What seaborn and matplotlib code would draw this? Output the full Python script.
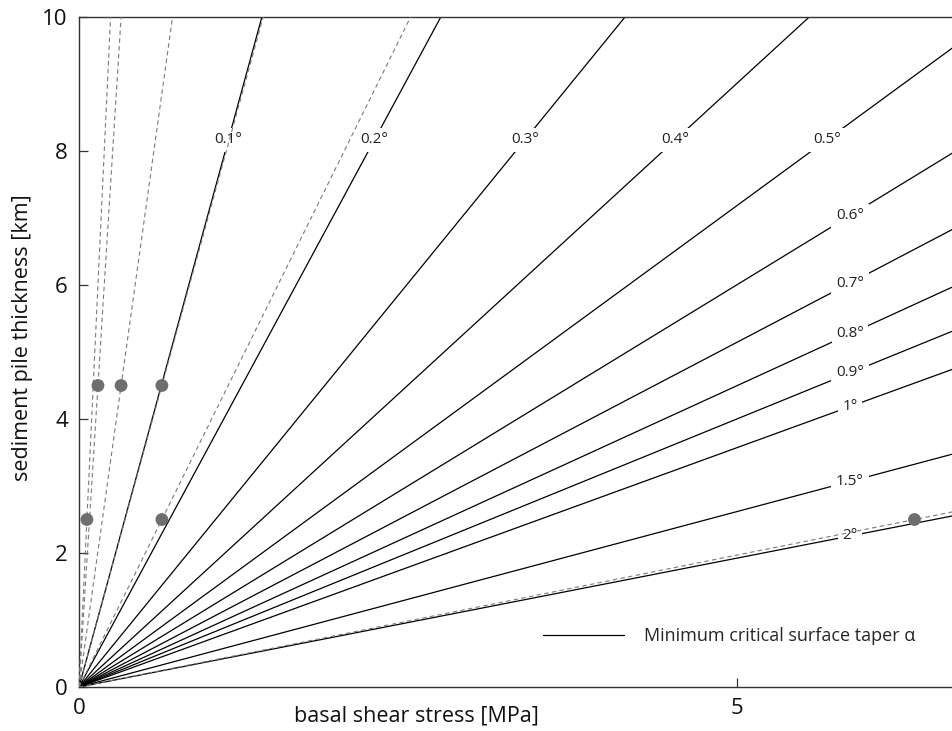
import numpy as np
import pandas as pd
import matplotlib
matplotlib.use("Agg")
import matplotlib.pyplot as plt
from matplotlib.lines import Line2D
from matplotlib.ticker import MultipleLocator
import seaborn as sns

# minimum critical surface taper α: label + shear stress (MPa) where each line hits 10 km
taper_labels = ["0.1°", "0.2°", "0.3°", "0.4°", "0.5°", "0.6°",
                "0.7°", "0.8°", "0.9°", "1°", "1.5°", "2°"]
taper_x_at_10km = [1.39, 2.75, 4.15, 5.55, 6.96, 8.33,
                   9.72, 11.12, 12.5, 14.0, 19.1, 26.0]

# observed cases (basal shear stress [MPa], sediment pile thickness [km])
obs_stress = [0.06, 0.144, 0.32, 0.63, 0.63, 6.35]
obs_thickness = [2.5, 4.5, 4.5, 4.5, 2.5, 2.5]

H_TOP = 10.0

sns.set_theme(style="white")
plt.rcParams["font.family"] = ["Open Sans", "DejaVu Sans"]
plt.rcParams["axes.unicode_minus"] = False

# lines through the origin, as long-form tables
rows = []
for lab, x10 in zip(taper_labels, taper_x_at_10km):
    rows.append({"taper": lab, "stress": 0.0, "thickness": 0.0})
    rows.append({"taper": lab, "stress": x10, "thickness": H_TOP})
df_taper = pd.DataFrame(rows)

rows = []
for i, (s, h) in enumerate(zip(obs_stress, obs_thickness)):
    rows.append({"case": i, "stress": 0.0, "thickness": 0.0})
    rows.append({"case": i, "stress": s * H_TOP / h, "thickness": H_TOP})
df_obs = pd.DataFrame(rows)

fig = plt.figure(figsize=(9.52, 7.31), dpi=100)
# axes run past the right edge of the figure (cut off like the original)
ax = fig.add_axes([79 / 952, 44 / 731, 921 / 952, 670 / 731])

sns.lineplot(data=df_taper, x="stress", y="thickness", units="taper",
             estimator=None, color="black", lw=0.9, legend=False,
             ax=ax, zorder=1)
sns.lineplot(data=df_obs, x="stress", y="thickness", units="case",
             estimator=None, color="#7a7a7a", lw=0.8,
             linestyle=(0, (4, 3)), legend=False, ax=ax, zorder=3)
sns.scatterplot(x=obs_stress, y=obs_thickness, s=85, color="#6e6e6e",
                edgecolor="none", ax=ax, zorder=4)

# inline labels: steep lines labelled at 8.17 km, flatter ones at 5.86 MPa
for i, (lab, x10) in enumerate(zip(taper_labels, taper_x_at_10km)):
    if i < 5:
        ly = 8.17
        lx = ly * x10 / H_TOP
    else:
        lx = 5.86
        ly = lx * H_TOP / x10
    ax.text(lx, ly, lab, ha="center", va="center", fontsize=11,
            color="#222222", zorder=2,
            bbox=dict(boxstyle="square,pad=0.3", fc="white", ec="none"))

ax.set_xlim(0, 7)
ax.set_ylim(0, 10)
ax.set_xticks([0, 5])
ax.yaxis.set_major_locator(MultipleLocator(2))
ax.yaxis.set_minor_locator(MultipleLocator(1))
ax.tick_params(which="both", direction="in", length=6.5, width=0.9,
               color="#333333", labelsize=16, pad=8, labelcolor="#111111")
ax.tick_params(axis="x", which="minor", length=0)
ax.tick_params(left=True, bottom=True)

for side in ["left", "bottom", "top"]:
    ax.spines[side].set_color("#333333")
    ax.spines[side].set_linewidth(1.0)
ax.spines["right"].set_visible(False)

ax.set_xlabel("basal shear stress [MPa]", fontsize=15.5, color="#111111")
ax.set_ylabel("sediment pile thickness [km]", fontsize=15.5, color="#111111")
ax.xaxis.set_label_coords(0.366, -0.028)
ax.yaxis.set_label_coords(-0.05, 0.522)

handle = Line2D([], [], color="black", lw=0.9)
ax.legend([handle], ["Minimum critical surface taper α"], loc="center left",
          bbox_to_anchor=(0.504, 0.076), frameon=False, fontsize=13,
          handlelength=4.5, handletextpad=1.1, borderpad=0, borderaxespad=0)

fig.savefig("out.png", dpi=100)
plt.close(fig)
